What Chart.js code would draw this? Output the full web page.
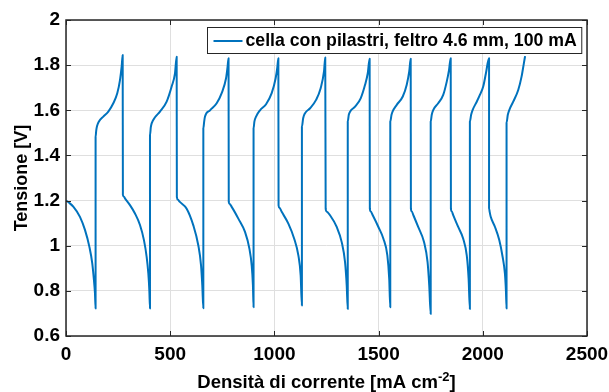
<!DOCTYPE html>
<html>
<head>
<meta charset="utf-8">
<script src="https://cdn.jsdelivr.net/npm/chart.js@4.4.1/dist/chart.umd.min.js"></script>
<style>
  html, body { margin: 0; padding: 0; background: #fff; }
  canvas { display: block; }
</style>
</head>
<body>
<canvas id="chart" width="609" height="392"></canvas>
<script>
// Charge/discharge cycles: each cycle = discharge (falling) then charge (rising)
const cycle1X = [0, 15, 35, 67, 91, 112, 126, 134, 139, 142, 142, 145, 149, 158, 179, 203, 227, 246, 259, 267, 272];
const cycle1V = [1.20, 1.19, 1.173, 1.128, 1.07, 0.996, 0.922, 0.848, 0.789, 0.722, 1.483, 1.51, 1.53, 1.55, 1.572, 1.594, 1.631, 1.675, 1.734, 1.793, 1.845];
const cycle2X = [273, 277, 283, 307, 331, 355, 374, 387, 395, 400, 403, 403, 407, 411, 427, 451, 483, 507, 523, 531];
const cycle2V = [1.225, 1.218, 1.21, 1.18, 1.143, 1.092, 1.025, 0.951, 0.878, 0.80, 0.722, 1.49, 1.525, 1.542, 1.569, 1.594, 1.638, 1.705, 1.764, 1.837];
const cycle3X = [532, 536, 545, 579, 611, 635, 648, 654, 659, 659, 663, 667, 691, 723, 747, 768, 775, 780];
const cycle3V = [1.215, 1.205, 1.195, 1.164, 1.09, 1.001, 0.913, 0.824, 0.723, 1.52, 1.55, 1.572, 1.60, 1.631, 1.676, 1.742, 1.79, 1.831];
const cycle4X = [781, 785, 795, 827, 859, 880, 891, 897, 900, 900, 904, 912, 931, 960, 987, 1006, 1014, 1019];
const cycle4V = [1.194, 1.185, 1.172, 1.12, 1.061, 0.987, 0.913, 0.824, 0.727, 1.52, 1.55, 1.572, 1.60, 1.627, 1.676, 1.742, 1.79, 1.831];
const cycle5X = [1020, 1024, 1035, 1067, 1095, 1115, 1126, 1132, 1132, 1138, 1147, 1171, 1200, 1222, 1238, 1244];
const cycle5V = [1.179, 1.168, 1.15, 1.098, 1.031, 0.957, 0.868, 0.735, 1.527, 1.565, 1.587, 1.609, 1.646, 1.698, 1.772, 1.834];
const cycle6X = [1246, 1250, 1267, 1299, 1323, 1339, 1347, 1352, 1352, 1357, 1363, 1387, 1414, 1435, 1448, 1457];
const cycle6V = [1.164, 1.152, 1.135, 1.083, 1.016, 0.927, 0.824, 0.72, 1.55, 1.58, 1.594, 1.616, 1.653, 1.713, 1.764, 1.828];
const cycle7X = [1458, 1462, 1472, 1499, 1523, 1542, 1551, 1556, 1556, 1562, 1567, 1587, 1616, 1635, 1647, 1654];
const cycle7V = [1.164, 1.152, 1.135, 1.083, 1.031, 0.957, 0.853, 0.727, 1.55, 1.58, 1.594, 1.624, 1.661, 1.713, 1.772, 1.828];
const cycle8X = [1655, 1659, 1667, 1690, 1718, 1735, 1743, 1750, 1750, 1755, 1762, 1786, 1810, 1827, 1838, 1846];
const cycle8V = [1.164, 1.152, 1.135, 1.083, 1.016, 0.927, 0.824, 0.698, 1.55, 1.58, 1.601, 1.631, 1.668, 1.727, 1.779, 1.831];
const cycle9X = [1847, 1851, 1858, 1882, 1906, 1923, 1932, 1938, 1938, 1944, 1951, 1971, 1986, 2002, 2015, 2030];
const cycle9V = [1.164, 1.152, 1.135, 1.083, 1.031, 0.957, 0.853, 0.72, 1.55, 1.58, 1.601, 1.638, 1.668, 1.705, 1.764, 1.83];
const cycle10X = [2030, 2033, 2038, 2058, 2079, 2095, 2106, 2111, 2114, 2114, 2120, 2127, 2146, 2170, 2186, 2197, 2203];
const cycle10V = [1.166, 1.15, 1.128, 1.084, 1.025, 0.951, 0.878, 0.80, 0.722, 1.545, 1.58, 1.601, 1.638, 1.69, 1.749, 1.808, 1.84];

const xTicks = [0, 500, 1000, 1500, 2000, 2500];
const yTicks = [0.6, 0.8, 1, 1.2, 1.4, 1.6, 1.8, 2];
const seriesLabel = 'cella con pilastri, feltro 4.6 mm, 100 mA';
const yTitle = 'Tensione [V]';
const xTitleParts = ['Densità di corrente [mA cm', '-2', ']'];

const FONT = '"Liberation Sans", Arial, Helvetica, sans-serif';
const LINE_BLUE = '#0072BD';
const AXIS_GREY = '#262626';

const cyclesX = [cycle1X, cycle2X, cycle3X, cycle4X, cycle5X, cycle6X, cycle7X, cycle8X, cycle9X, cycle10X];
const cyclesV = [cycle1V, cycle2V, cycle3V, cycle4V, cycle5V, cycle6V, cycle7V, cycle8V, cycle9V, cycle10V];
const points = [];
cyclesX.forEach(function (xs, i) {
    xs.forEach(function (x, j) { points.push({ x: x, y: cyclesV[i][j] }); });
});

// MATLAB-ish box, inward ticks, legend and axis titles
const matlabDecor = {
    id: 'matlabDecor',
    afterDraw: function (chart) {
        const ctx = chart.ctx;
        const a = chart.chartArea;
        const xs = chart.scales.x, ys = chart.scales.y;
        ctx.save();

        ctx.strokeStyle = AXIS_GREY;
        ctx.lineWidth = 1;
        ctx.beginPath();
        xTicks.forEach(function (v) {
            const px = Math.round(xs.getPixelForValue(v)) + 0.5;
            ctx.moveTo(px, a.bottom); ctx.lineTo(px, a.bottom - 5);
            ctx.moveTo(px, a.top); ctx.lineTo(px, a.top + 5);
        });
        yTicks.forEach(function (v) {
            const py = Math.round(ys.getPixelForValue(v)) + 0.5;
            ctx.moveTo(a.left, py); ctx.lineTo(a.left + 5, py);
            ctx.moveTo(a.right, py); ctx.lineTo(a.right - 5, py);
        });
        ctx.stroke();

        ctx.lineWidth = 1.5;
        ctx.strokeRect(a.left, a.top, a.right - a.left, a.bottom - a.top);

        // legend
        ctx.font = 'bold 17.7px ' + FONT;
        const tw = ctx.measureText(seriesLabel).width;
        const boxL = 207.5, boxT = 27.5, boxH = 26;
        const textX = boxL + 38;
        ctx.fillStyle = '#fff';
        ctx.fillRect(boxL, boxT, textX + tw + 5 - boxL, boxH);
        ctx.lineWidth = 1;
        ctx.strokeRect(boxL, boxT, textX + tw + 5 - boxL, boxH);
        ctx.strokeStyle = LINE_BLUE;
        ctx.lineWidth = 2;
        ctx.beginPath();
        ctx.moveTo(boxL + 6, boxT + 13.5);
        ctx.lineTo(boxL + 35, boxT + 13.5);
        ctx.stroke();
        ctx.fillStyle = '#000';
        ctx.textBaseline = 'middle';
        ctx.textAlign = 'left';
        ctx.fillText(seriesLabel, textX, boxT + 14);

        // y title
        ctx.font = 'bold 18px ' + FONT;
        ctx.save();
        ctx.translate(22, (a.top + a.bottom) / 2);
        ctx.rotate(-Math.PI / 2);
        ctx.textAlign = 'center';
        ctx.textBaseline = 'middle';
        ctx.fillText(yTitle, 0, 0);
        ctx.restore();

        // x title with superscript
        const mainFont = 'bold 18.5px ' + FONT, supFont = 'bold 13px ' + FONT;
        ctx.font = mainFont;
        const w0 = ctx.measureText(xTitleParts[0]).width;
        const w2 = ctx.measureText(xTitleParts[2]).width;
        ctx.font = supFont;
        const w1 = ctx.measureText(xTitleParts[1]).width;
        let tx = (a.left + a.right) / 2 - (w0 + w1 + w2) / 2;
        const base = 388;
        ctx.textAlign = 'left';
        ctx.textBaseline = 'alphabetic';
        ctx.font = mainFont;
        ctx.fillText(xTitleParts[0], tx, base);
        tx += w0;
        ctx.font = supFont;
        ctx.fillText(xTitleParts[1], tx, base - 7);
        tx += w1;
        ctx.font = mainFont;
        ctx.fillText(xTitleParts[2], tx, base);

        ctx.restore();
    }
};

document.addEventListener('DOMContentLoaded', function () {
    const canvas = document.getElementById('chart');
    new Chart(canvas, {
        type: 'scatter',
        data: {
            datasets: [{
                label: seriesLabel,
                data: points,
                showLine: true,
                borderColor: LINE_BLUE,
                backgroundColor: LINE_BLUE,
                borderWidth: 2,
                pointRadius: 0,
                cubicInterpolationMode: 'monotone',
                borderJoinStyle: 'round'
            }]
        },
        options: {
            responsive: false,
            animation: false,
            devicePixelRatio: 1,
            layout: { padding: { left: 0, right: 22, top: 20, bottom: 0 } },
            plugins: {
                legend: { display: false },
                tooltip: { enabled: false }
            },
            scales: {
                x: {
                    type: 'linear',
                    min: 0,
                    max: 2500,
                    afterBuildTicks: function (s) { s.ticks = xTicks.map(function (v) { return { value: v }; }); },
                    afterFit: function (s) { s.height = 56; s.paddingLeft = 0; s.paddingRight = 0; },
                    grid: { color: '#dfdfdf', lineWidth: 1, drawTicks: false },
                    border: { display: false },
                    ticks: {
                        padding: 7,
                        color: '#000',
                        font: { family: FONT, size: 19, weight: 'bold' },
                        maxRotation: 0,
                        callback: function (v) { return String(v); }
                    }
                },
                y: {
                    type: 'linear',
                    min: 0.6,
                    max: 2,
                    afterBuildTicks: function (s) { s.ticks = yTicks.map(function (v) { return { value: v }; }); },
                    afterFit: function (s) { s.width = 66; s.paddingTop = 0; s.paddingBottom = 0; },
                    grid: { color: '#dfdfdf', lineWidth: 1, drawTicks: false },
                    border: { display: false },
                    ticks: {
                        padding: 6,
                        color: '#000',
                        font: { family: FONT, size: 19, weight: 'bold' },
                        callback: function (v) { return String(Number(v.toFixed(1))); }
                    }
                }
            }
        },
        plugins: [matlabDecor]
    });
});
</script>
</body>
</html>
